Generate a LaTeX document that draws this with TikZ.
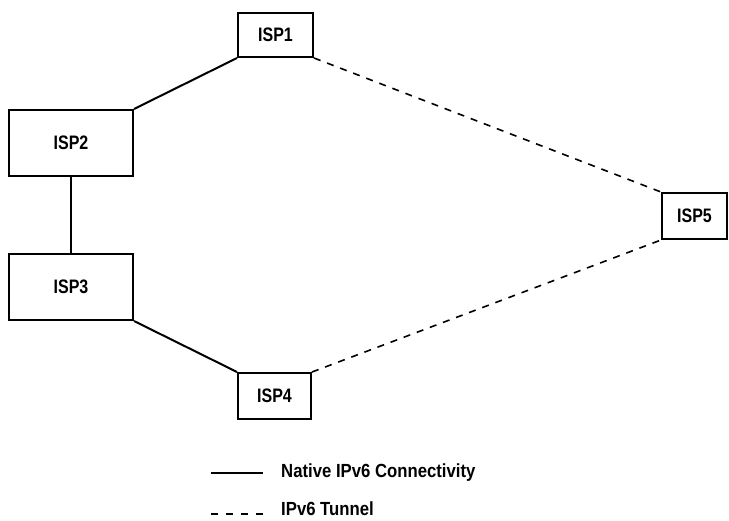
\documentclass[tikz,border=0pt]{standalone}
\usepackage{fontspec}
\newfontfamily\boxfont[FakeStretch=0.82]{Liberation Sans}
\newfontfamily\keyfont[FakeStretch=0.88]{Liberation Sans}
\tikzset{
  isp/.style={draw, line width=2pt, inner sep=0pt,
    font=\boxfont\bfseries\fontsize{19.5}{22}\selectfont},
  native/.style={line width=2pt},
  tunnel/.style={line width=1.6pt, dash pattern=on 7pt off 7pt},
  keytext/.style={anchor=west, inner sep=0pt,
    font=\keyfont\bfseries\fontsize{19}{22}\selectfont}
}
\begin{document}
\begin{tikzpicture}[x=1pt,y=-1pt]
  \useasboundingbox (0,0) rectangle (729,520);

  % ISP routers
  \node[isp, minimum width=75pt, minimum height=44pt] (isp1) at (275.5,35) {ISP1};
  \node[isp, minimum width=124pt, minimum height=66pt] (isp2) at (71,143) {ISP2};
  \node[isp, minimum width=124pt, minimum height=66pt] (isp3) at (71,287) {ISP3};
  \node[isp, minimum width=73pt, minimum height=46pt] (isp4) at (274.5,396) {ISP4};
  \node[isp, minimum width=65pt, minimum height=46pt] (isp5) at (694.5,216) {ISP5};

  % native links
  \draw[native] (isp1.south west) -- (isp2.north east);
  \draw[native] (isp2.south) -- (isp3.north);
  \draw[native] (isp3.south east) -- (isp4.north west);

  % tunnels
  \draw[tunnel] (isp1.south east) -- (isp5.north west);
  \draw[tunnel] (isp4.north east) -- (isp5.south west);

  % legend
  \coordinate (k1a) at (211,473);
  \coordinate (k1b) at (263,473);
  \coordinate (k2a) at (211,514);
  \coordinate (k2b) at (263,514);
  \draw[native] (k1a) -- (k1b);
  \draw[line width=1.6pt, dash pattern=on 7pt off 8pt] (k2a) -- (k2b);
  \node[keytext] (key1) at (281,473) {Native IPv6 Connectivity};
  \node[keytext] (key2) at (281,509) {IPv6 Tunnel};
\end{tikzpicture}
\end{document}
